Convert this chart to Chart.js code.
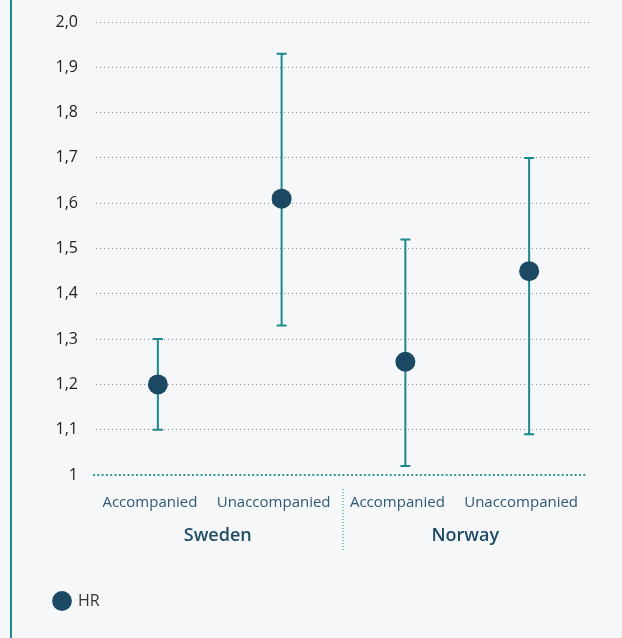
<!DOCTYPE html>
<html>
<head>
<meta charset="utf-8">
<script src="https://cdn.jsdelivr.net/npm/chart.js@4"></script>
<style>
  html, body { margin: 0; padding: 0; background: #f6f7f9; }
  .wrap { position: relative; width: 622px; height: 638px; background: #f6f7f9; }
  .wrap::before { content: ''; position: absolute; left: 10px; top: 0; bottom: 0; width: 2px; background: #1f8a8f; }
  canvas { position: absolute; left: 0; top: 0; }
</style>
</head>
<body>
<div class="wrap"><canvas id="hrChart" width="622" height="638"></canvas></div>
<script>
const categories = ['Accompanied', 'Unaccompanied', 'Accompanied', 'Unaccompanied'];
const countries = ['Sweden', 'Norway'];
const hr = [1.20, 1.61, 1.25, 1.45];
const ciLow = [1.10, 1.33, 1.02, 1.09];
const ciHigh = [1.30, 1.93, 1.52, 1.70];
const yMin = 1;
const yMax = 2;
const yStep = 0.1;

const teal = '#1a8a90';
const navy = '#1b4862';

// error bars, baseline, separator and country labels
const extras = {
    id: 'extras',
    beforeDatasetsDraw(chart) {
        const { ctx, scales: { x, y }, chartArea } = chart;
        ctx.save();
        // baseline at 1
        const by = y.getPixelForValue(yMin);
        ctx.strokeStyle = teal;
        ctx.lineWidth = 2.2;
        ctx.lineCap = 'round';
        ctx.setLineDash([0.1, 4.2]);
        ctx.beginPath();
        ctx.moveTo(chartArea.left - 2, by);
        ctx.lineTo(chartArea.right - 4, by);
        ctx.stroke();
        ctx.setLineDash([]);
        ctx.lineCap = 'butt';

        // whiskers
        ctx.strokeStyle = teal;
        ctx.lineWidth = 2;
        hr.forEach((v, i) => {
            const px = x.getPixelForValue(i);
            const lo = y.getPixelForValue(ciLow[i]);
            const hi = y.getPixelForValue(ciHigh[i]);
            ctx.beginPath();
            ctx.moveTo(px, lo);
            ctx.lineTo(px, hi);
            ctx.moveTo(px - 5, lo);
            ctx.lineTo(px + 5, lo);
            ctx.moveTo(px - 5, hi);
            ctx.lineTo(px + 5, hi);
            ctx.stroke();
        });
        ctx.restore();
    },
    afterDraw(chart) {
        const { ctx, scales: { x }, chartArea } = chart;
        ctx.save();
        // separator between countries
        const sx = (x.getPixelForValue(1) + x.getPixelForValue(2)) / 2 - 0.5;
        ctx.strokeStyle = teal;
        ctx.lineWidth = 1;
        ctx.setLineDash([1, 2]);
        ctx.beginPath();
        ctx.moveTo(sx, chartArea.bottom + 14);
        ctx.lineTo(sx, chartArea.bottom + 76);
        ctx.stroke();
        ctx.setLineDash([]);

        ctx.fillStyle = '#1f4b65';
        ctx.font = '600 18px "Open Sans"';
        ctx.textAlign = 'center';
        ctx.textBaseline = 'middle';
        countries.forEach((c, k) => {
            const cx = (x.getPixelForValue(2 * k) + x.getPixelForValue(2 * k + 1)) / 2 - 2;
            ctx.fillText(c, cx, chartArea.bottom + 61);
        });
        ctx.restore();
    }
};

new Chart(document.getElementById('hrChart'), {
    type: 'line',
    data: {
        labels: categories,
        datasets: [
            {
                label: 'HR',
                data: hr,
                showLine: false,
                pointRadius: 10,
                pointHoverRadius: 10,
                pointBackgroundColor: navy,
                pointBorderWidth: 0,
                backgroundColor: navy,
                borderColor: navy,
                borderWidth: 0,
            },
        ],
    },
    options: {
        responsive: false,
        animation: false,
        layout: { padding: { left: 44, right: 31, top: 22, bottom: 19 } },
        plugins: {
            tooltip: { enabled: false },
            legend: {
                position: 'bottom',
                align: 'start',
                labels: {
                    usePointStyle: true,
                    pointStyle: 'circle',
                    boxHeight: 14,
                    color: '#333',
                    font: { family: 'Open Sans', size: 16 },
                    padding: 10,
                },
            },
        },
        scales: {
            x: {
                offset: true,
                grid: { display: false, drawTicks: false },
                border: { display: false },
                ticks: {
                    color: '#2f5874',
                    font: { family: 'Open Sans', size: 15 },
                    padding: 19,
                    labelOffset: -8,
                    maxRotation: 0,
                    autoSkip: false,
                },
                afterFit(scale) {
                    scale.height = 108;
                    scale.paddingLeft = 0;
                    scale.paddingRight = 0;
                },
            },
            y: {
                min: yMin,
                max: yMax,
                grid: {
                    drawTicks: false,
                    color: ctx => (ctx.tick && ctx.tick.value === yMin ? 'rgba(0,0,0,0)' : '#8c8c8c'),
                    lineWidth: 1,
                },
                border: { display: false, dash: [1, 3] },
                ticks: {
                    stepSize: yStep,
                    color: '#222',
                    font: { family: 'Open Sans', size: 16 },
                    padding: 18,
                    callback: v => (v === yMin ? '1' : v.toFixed(1).replace('.', ',')),
                },
                afterFit(scale) {
                    scale.width = 52;
                    scale.paddingTop = 0;
                    scale.paddingBottom = 0;
                },
            },
        },
    },
    plugins: [extras],
});
</script>
</body>
</html>
